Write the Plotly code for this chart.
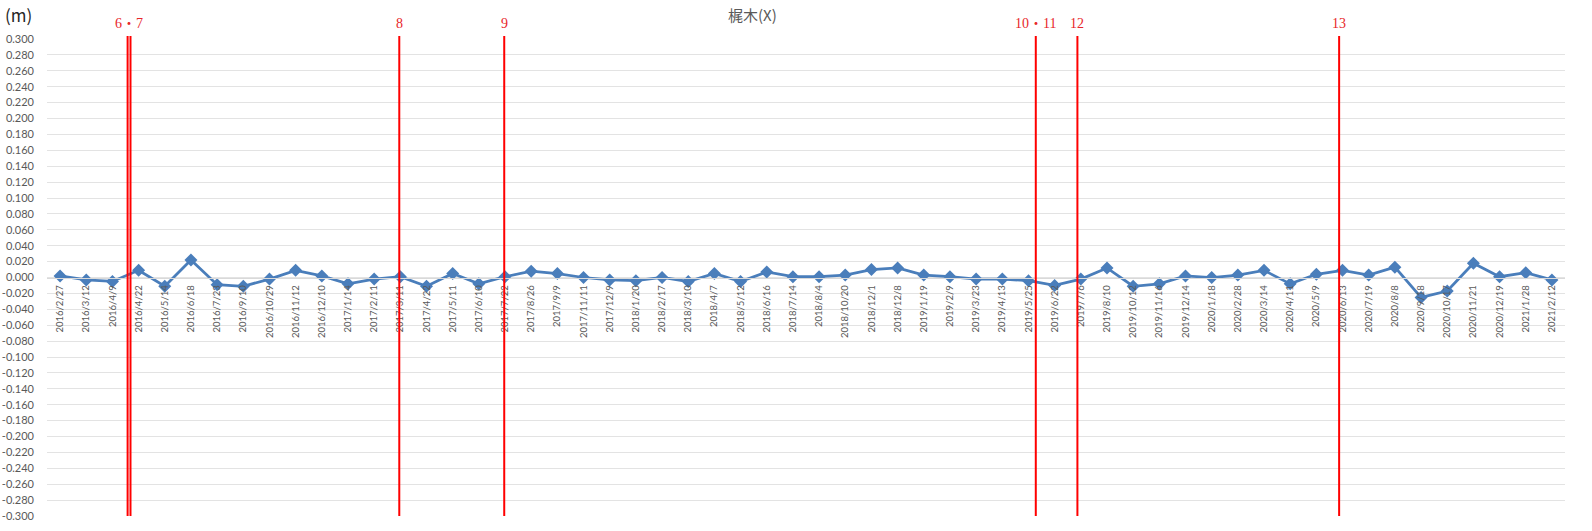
import plotly.graph_objects as go

dates = [
    "2016/2/27", "2016/3/12", "2016/4/9", "2016/4/22", "2016/5/14", "2016/6/18",
    "2016/7/23", "2016/9/10", "2016/10/29", "2016/11/12", "2016/12/10", "2017/1/14",
    "2017/2/11", "2017/3/11", "2017/4/22", "2017/5/11", "2017/6/10", "2017/7/22",
    "2017/8/26", "2017/9/9", "2017/11/11", "2017/12/9", "2018/1/20", "2018/2/17",
    "2018/3/10", "2018/4/7", "2018/5/12", "2018/6/16", "2018/7/14", "2018/8/4",
    "2018/10/20", "2018/12/1", "2018/12/8", "2019/1/19", "2019/2/9", "2019/3/23",
    "2019/4/13", "2019/5/25", "2019/6/22", "2019/7/6", "2019/8/10", "2019/10/12",
    "2019/11/16", "2019/12/14", "2020/1/18", "2020/2/28", "2020/3/14", "2020/4/11",
    "2020/5/9", "2020/6/13", "2020/7/19", "2020/8/8", "2020/9/18", "2020/10/17",
    "2020/11/21", "2020/12/19", "2021/1/28", "2021/2/12",
]

values = [
    0.002, -0.003, -0.005, 0.009, -0.011, 0.022,
    -0.009, -0.011, -0.002, 0.009, 0.002, -0.008,
    -0.002, 0.001, -0.011, 0.005, -0.008, 0.001,
    0.008, 0.005, 0.000, -0.003, -0.004, 0.000,
    -0.005, 0.005, -0.005, 0.007, 0.001, 0.001,
    0.003, 0.010, 0.012, 0.003, 0.001, -0.002,
    -0.002, -0.004, -0.010, -0.002, 0.012, -0.011,
    -0.008, 0.002, 0.000, 0.003, 0.009, -0.008,
    0.004, 0.009, 0.003, 0.013, -0.025, -0.017,
    0.018, 0.001, 0.006, -0.003,
]

# event markers: label and position (category index units)
event_labels = ["6・7", "8", "9", "10・11", "12", "13"]
event_label_pos = [2.63, 12.96, 16.97, 37.28, 38.87, 48.87]
event_line_pos = [[2.58, 2.69], [12.96], [16.97], [37.28], [38.87], [48.87]]

y_ticks = [round(-0.3 + 0.02 * i, 3) for i in range(31)]
y_ticktext = ["%.3f" % v for v in y_ticks]

W, H = 1592, 531
L, R, T, B = 47, 27, 39, 15
ph = H - T - B

fig = go.Figure()
fig.add_trace(go.Scatter(
    x=list(range(len(dates))), y=values, mode="lines+markers",
    line=dict(color="#4A7EBB", width=2.75),
    marker=dict(symbol="diamond", size=10, color="#4A7EBB"),
    showlegend=False, cliponaxis=False, hoverinfo="skip",
))

shapes = []
for grp in event_line_pos:
    for xp in grp:
        shapes.append(dict(type="line", xref="x", yref="paper",
                           x0=xp, x1=xp, y0=0.0, y1=1 + 3 / ph,
                           line=dict(color="#FF0000", width=2), layer="above"))

annotations = []
for lab, xp in zip(event_labels, event_label_pos):
    annotations.append(dict(text=lab, xref="x", yref="paper", x=xp, y=1 + 16 / ph,
                            showarrow=False, xanchor="center", yanchor="middle",
                            font=dict(family="Liberation Serif, Noto Sans CJK JP", size=14,
                                      color="#E8262A")))
annotations.append(dict(text="梶木(X)", xref="paper", yref="paper",
                        x=(752 - L) / (W - L - R), y=1 + 25 / ph, showarrow=False,
                        xanchor="center", yanchor="middle",
                        font=dict(family="Noto Sans CJK JP", size=15, color="#595959")))
annotations.append(dict(text="(m)", xref="paper", yref="paper",
                        x=(3 - L) / (W - L - R), y=1 + 25 / ph, showarrow=False,
                        xanchor="left", yanchor="middle",
                        font=dict(family="Noto Sans CJK JP", size=17, color="#262626")))

fig.update_layout(
    width=W, height=H,
    margin=dict(l=L, r=R, t=T, b=B, autoexpand=False),
    paper_bgcolor="white", plot_bgcolor="white",
    shapes=shapes, annotations=annotations,
    xaxis=dict(
        tickmode="array", tickvals=list(range(len(dates))), ticktext=dates,
        range=[-0.5, len(dates) - 0.5],
        anchor="free", position=0.5, side="bottom",
        tickangle=-90, showgrid=False, zeroline=False,
        showline=True, linecolor="#D9D9D9", linewidth=1,
        ticks="", ticklabelstandoff=3,
        tickfont=dict(family="Lato, Liberation Sans", size=9.5, color="#595959"),
        automargin=False, fixedrange=True,
    ),
    yaxis=dict(
        range=[-0.3, 0.3], tickmode="array", tickvals=y_ticks, ticktext=y_ticktext,
        showgrid=True, gridcolor="#E3E3E3", gridwidth=1, zeroline=False,
        showline=False, ticks="", ticklabelstandoff=12,
        tickfont=dict(family="Lato, Liberation Sans", size=11, color="#595959"),
        automargin=False, fixedrange=True,
    ),
)

fig.write_html("out.html", config={"displayModeBar": False, "staticPlot": True},
               post_script="document.body.style.margin='0';document.body.style.overflow='hidden';")
